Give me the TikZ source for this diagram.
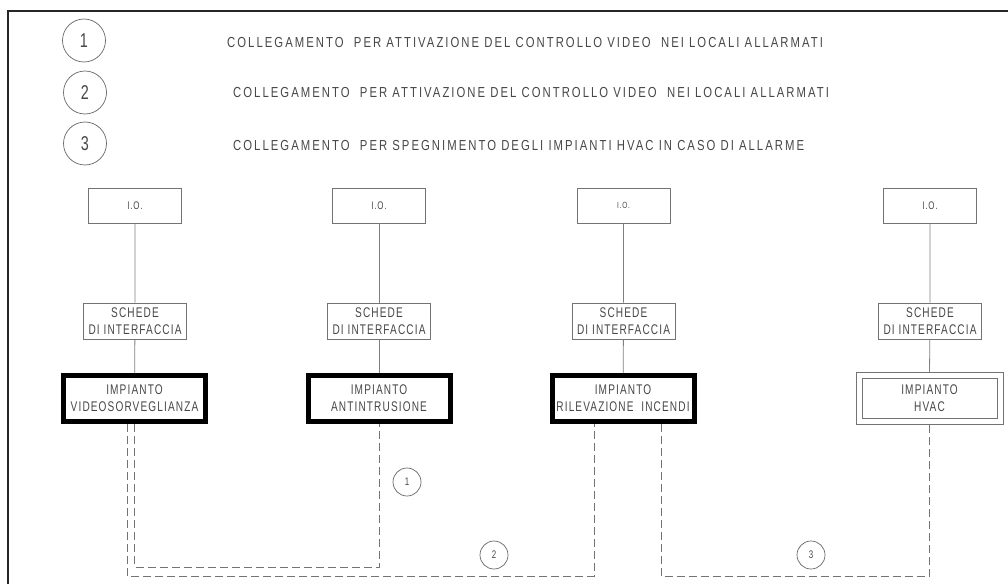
\documentclass[tikz,border=0pt]{standalone}
\usepackage{fontspec}
\newfontfamily\cadfont[FakeStretch=0.72,LetterSpace=8]{Liberation Sans}
\newfontfamily\cadwide[FakeStretch=0.78,LetterSpace=14]{Liberation Sans}
\usetikzlibrary{positioning}

\begin{document}
\begin{tikzpicture}[
    x=1pt, y=-1pt,
    every node/.style={font=\cadfont\fontsize{14}{17}\selectfont, text=black!72, align=center, inner sep=0pt},
    iobox/.style={draw=black!55, line width=0.8pt, minimum width=93pt, minimum height=35pt},
    schbox/.style={draw=black!55, line width=0.8pt, minimum width=103pt, minimum height=36pt},
    impbox/.style={draw=black, line width=5pt, minimum width=142pt, minimum height=46pt},
    hvacbox/.style={draw=black!55, line width=0.8pt, minimum width=135pt, minimum height=40pt},
    bignum/.style={circle, draw=black!60, line width=0.7pt, minimum size=43pt, font=\cadfont\fontsize{20}{20}\selectfont},
    smallnum/.style={circle, draw=black!60, line width=0.7pt, minimum size=28pt, font=\cadfont\fontsize{11}{11}\selectfont},
    legend/.style={anchor=west, font=\cadwide\fontsize{14.5}{15}\selectfont},
    wire/.style={draw=black!50, line width=0.8pt},
    link/.style={draw=black!55, line width=0.8pt, dash pattern=on 8pt off 4pt},
]
\useasboundingbox (0,0) rectangle (1008,583);

% frame of the sheet
\draw[line width=1.6pt, black!85] (8,590) -- (8,11) -- (1015,11);

% ================================================================
% legend
% ================================================================
\node[bignum] (k1) at (84,40.5) {1};
\node[bignum] (k2) at (85,92.5) {2};
\node[bignum] (k3) at (85,143.5) {3};
\node[legend] (t1) at (227,43) {COLLEGAMENTO\ \ PER ATTIVAZIONE DEL CONTROLLO VIDEO\ \ NEI LOCALI ALLARMATI};
\node[legend] (t2) at (233,93) {COLLEGAMENTO\ \ PER ATTIVAZIONE DEL CONTROLLO VIDEO\ \ NEI LOCALI ALLARMATI};
\node[legend] (t3) at (233,146) {COLLEGAMENTO\ \ PER SPEGNIMENTO DEGLI IMPIANTI HVAC IN CASO DI ALLARME};

% ================================================================
% the four columns: I.O. / schede / impianto
% ================================================================
\node[iobox] (io1) at (135,205.5) {\fontsize{11}{11}\selectfont I.O.};
\node[iobox] (io2) at (379,205.5) {\fontsize{11}{11}\selectfont I.O.};
\node[iobox] (io3) at (623.5,205.5) {\fontsize{9}{9}\selectfont I.O.};
\node[iobox] (io4) at (930,205.5) {\fontsize{11}{11}\selectfont I.O.};

\node[schbox] (sch1) at (135,321) {SCHEDE\\DI INTERFACCIA};
\node[schbox] (sch2) at (379,321) {SCHEDE\\DI INTERFACCIA};
\node[schbox] (sch3) at (623.5,321) {SCHEDE\\DI INTERFACCIA};
\node[schbox] (sch4) at (930,321) {SCHEDE\\DI INTERFACCIA};

\node[impbox] (vid) at (134.5,398.5) {IMPIANTO\\VIDEOSORVEGLIANZA};
\node[impbox] (ant) at (379,398.5) {IMPIANTO\\ANTINTRUSIONE};
\node[impbox] (ril) at (623,398.5) {IMPIANTO\\RILEVAZIONE\ \ INCENDI};
\node[hvacbox] (hvac) at (929.5,398.5) {IMPIANTO\\HVAC};
\draw[black!55, line width=0.8pt] ([shift={(-5.5,-5.5)}]hvac.north west) rectangle ([shift={(5.5,5.5)}]hvac.south east);

\draw[wire] (io1)--(sch1) (sch1)--(vid);
\draw[wire] (io2)--(sch2) (sch2)--(ant);
\draw[wire] (io3)--(sch3) (sch3)--(ril);
\draw[wire] (io4)--(sch4) (sch4)--([yshift=5.5pt]hvac.north);

% ================================================================
% dashed links 1, 2, 3
% ================================================================
\coordinate (low1) at (0,567);
\coordinate (low2) at (0,576);
\draw[link] (vid.south) -- (vid.south |- low1) -| (ant.south);
\draw[link] ([xshift=-7.5pt]vid.south) -- ([xshift=-7.5pt]vid.south |- low2) -| ([xshift=-29pt]ril.south);
\draw[link] ([xshift=38pt]ril.south) -- ([xshift=38pt]ril.south |- low2) -| ([yshift=-5.5pt]hvac.south);

\node[smallnum] (n1) at (407,482) {1};
\node[smallnum] (n2) at (494,555) {2};
\node[smallnum] (n3) at (811,555) {3};

\end{tikzpicture}
\end{document}
